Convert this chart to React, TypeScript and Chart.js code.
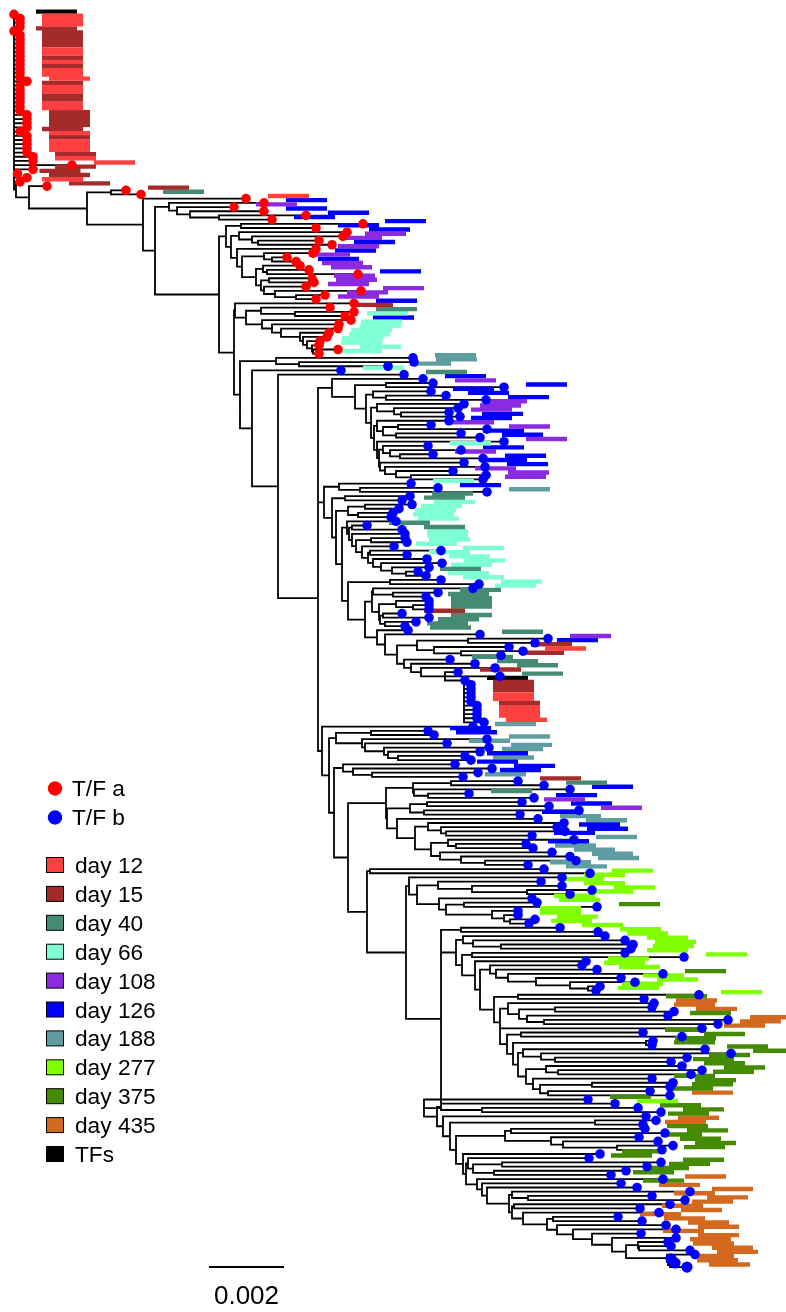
import React, { useEffect, useRef } from "react";
import { Chart, registerables } from "chart.js";

Chart.register(...registerables);

// Legend
const dayLabels = ["day 12", "day 15", "day 40", "day 66", "day 108", "day 126", "day 188", "day 277", "day 375", "day 435", "TFs"];
const dayColors = ["#FF4040", "#A52A2A", "#458B74", "#7FFFD4", "#8A2BE2", "#0000FF", "#5F9EA0", "#7FFF00", "#458B00", "#D2691E", "#000000"];
const founderLabels = ["T/F a", "T/F b"];
const founderColors = ["#FF0000", "#0000FF"];
const firstRowOfFounderB = 82;
const enlargedTipRows = [297, 298, 299];

// Tip position along the branch-length axis, one per row, top to bottom
const tipX = [
  14,20,20,20,14,20,20,20,20,20, 20,20,20,20,20,20,27,20,20,20,
  20,20,20,20,27,27,27,27,20,27, 27,27,27,27,33,33,72,33,17.5,27,
  20,47,126,141,246,264,234,264,306,272, 363,316,347,343,319,332,316,313,287,296,
  300,309,358,312,314,306,361,325,316,354, 330,354,345,351,339,338,329,327,320,319,
  338,319,413,414,388,341,404,423,433,504, 431,446,486,464,458,449,460,449,431,487,
  461,480,504,428,461,433,483,464,485,453, 486,483,411,438,487,410,402,412,399,393,
  391,396,367,402,405,405,407,394,441,407, 427,442,429,418,426,441,479,473,438,426,
  429,429,429,402,429,416,405,408,480,548, 535,509,523,501,450,475,495,458,500,465,
  471,471,471,471,471,477,477,477,477,484, 473,428,434,487,447,489,480,465,471,455,
  492,478,463,518,544,570,469,534,522,549, 579,520,538,564,557,565,532,574,526,533,
  552,570,576,528,544,590,562,541,562,592, 570,532,537,597,518,518,535,529,560,598,
  605,625,633,631,625,684,586,582,597,663, 621,635,600,596,699,644,654,652,674,668,
  728,718,702,643,682,653,652,705,731,687, 671,682,702,691,652,673,670,650,670,588,
  615,638,661,646,656,643,645,665,639,658, 673,662,600,589,661,647,626,611,663,621,
  637,690,652,685,670,640,659,618,642,666, 676,641,676,668,671,690,695,671,675,687,
];

// Index into dayLabels, one per row
const tipDay = [
  10,0,0,0,1,1,1,1,1,0, 0,1,0,1,0,0,0,1,0,0,
  1,1,0,0,1,1,1,1,1,0, 1,0,0,0,1,0,0,1,1,1,
  0,1,1,2,0,5,4,5,5,5, 5,5,5,4,4,5,4,5,4,5,
  4,4,5,4,4,4,4,4,4,5, 1,2,3,5,3,3,3,3,3,3,
  3,3,6,6,6,3,2,5,4,5, 5,5,5,4,4,4,5,5,4,4,
  5,5,4,3,5,4,5,5,5,4, 4,4,3,5,6,2,2,3,3,3,
  3,3,2,2,3,3,3,3,3,3, 3,3,3,2,3,3,3,3,2,2,
  2,2,2,1,2,2,2,2,2,4, 5,1,0,1,2,2,2,1,2,10,
  1,1,1,0,0,1,0,0,0,0, 6,5,5,6,6,6,6,5,6,5,
  5,5,6,1,2,5,2,5,4,5, 4,5,6,6,5,5,5,6,5,6,
  6,6,6,6,6,7,7,7,7,7, 7,7,7,8,7,7,7,7,7,7,
  7,7,7,7,7,7,7,7,7,8, 7,7,7,7,7,8,9,9,9,8,
  9,9,9,8,8,8,8,8,8,8, 8,8,8,8,8,8,8,8,9,8,
  7,8,8,8,9,9,8,8,8,8, 8,8,8,8,8,8,8,8,9,8,
  9,9,9,9,9,9,9,9,9,9, 9,9,9,9,9,9,9,9,9,9,
];

// Tree topology: "(x" opens an internal node at branch position x, "." is the next tip row,
// "(^x" is a node whose stem sits on its first child.
const cladeLadderA = `(219 (226 (241 . .) (231 (239 . (252 . (258 . .))) (237 . (242 (264 . (272 . .)) (256 (263 . (267 . .)) (261 (269 . .) (264 . (275 . (296 . .))))))))) (234 (235 . (246 (261 . (295 . .)) (262 . (272 . (281 . (300 . (303 . (307 . (312 . (313 . .))))))))))`;
const cladeUpperB = `(318 (332 . (355 (386 . .) (366 (373 . (386 . .)) (371 (377 . (394 . (401 . .))) (374 (377 . (383 (398 . .) (396 . .))) (377 . (379 (383 . (390 . (400 . .))) (380 . (385 . (396 . (411 . .)))))))))))`;
const cladeMiddleB = `(324 (339 . (360 . .)) (332 (345 . .) (336 (348 (365 . .) (358 . .)) (342 (347 . (349 (352 . .) (352 . (356 (371 . .) (362 . (368 (370 . .) (373 . (381 . (392 . (406 . .)))))))))) (348 (390 . .) (365 (372 (373 . (393 . .)) (379 (396 . (413 . .)) (380 (383 . .) (385 . .)))) (377 . (385 . (397 (417 (468 . .) (434 . (461 . .))) (404 . (411 . (421 . (445 . . (^464 . . . . . . . . . . .))))))))))))))`;
const cladeLate1 = `(441 (461 . .) (456 (463 . (473 . (501 . .))) (462 (472 . .) (475 . (480 (490 . (496 . (508 . (536 . (570 . (588 . .)))))) (494 (518 . .) (500 (508 . (519 (555 . .) (527 . (544 . .)))) (500 . (507 (521 . .) (513 (646 . .) (518 (523 . (541 . (555 . .))) (526 (546 . (558 . .)) (533 . (540 (592 . .) (548 . .))))))))))))))`;
const cladeLate2 = `(424 . (437 (441 . (482 . .)) (443 . (450 (595 . .) (456 (505 (511 . .) (551 . (563 . (617 . .)))) (463 . (466 (468 . (473 (502 . .) (494 . .))) (477 . (482 . (487 . (509 (512 . (528 . .)) (512 (514 . .) (523 . (547 (553 . .) (557 . (573 . (592 . (612 . (626 (638 . (639 . .)) (667 . (668 . (670 . .)))))))))))))))))))))`;
const cladeLower = `(322 . (329 (336 (371 . .) (362 . (365 . (384 . (388 . (398 . .)))))) (334 (343 . (353 . (372 . .))) (348 (386 (413 (451 . .) (414 . (428 . .))) (387 (410 (427 . .) (424 . .)) (397 . (415 (428 . (441 . (446 . .))) (431 (448 . (456 . .)) (440 . (461 . (485 . .)))))))) (367 (370 . .) (406 (409 . (417 (438 . (472 . (527 . .))) (439 . (446 (464 . .) (492 . (504 . (510 . .))))))) (418 ${cladeLate1} ${cladeLate2})))))))`;
const cladeB = `(240 (276 . (299 . .)) (252 . (278 . (316 (318 ${cladeUpperB} ${cladeMiddleB}) ${cladeLower}))))`;
const treeText = `(14 . . . . . . . . . . . . . . . . . . . . . . . . . . . . . . . . . . . . . . . . (16 . (29 . (87 (111 . .) (143 . (155 (169 . (177 . (190 . (219 . .)))) ${cladeLadderA} ${cladeB}))))))))`;

// Scale bar
const scaleBarX = [209, 284];
const scaleBarRow = 299;
const scaleBarLabel = "0.002";

type P = { x: number | null; y: number | null };
const GAP: P = { x: null, y: null };
const barLength = 41;
const barGap = 22;

function buildTree(): P[] {
  const tokens = treeText.match(/\(\^?[\d.]+|\)|\./g) || [];
  const segs: P[] = [];
  let pos = 0;
  let row = 0;
  const seg = (x0: number, y0: number, x1: number, y1: number) => {
    segs.push({ x: x0, y: y0 }, { x: x1, y: y1 }, GAP);
  };
  const read = (): { x: number; y: number } => {
    const t = tokens[pos++];
    if (t === ".") {
      const r = row++;
      return { x: tipX[r], y: r };
    }
    const anchored = t[1] === "^";
    const x = parseFloat(t.slice(anchored ? 2 : 1));
    const kids: { x: number; y: number }[] = [];
    while (tokens[pos] !== ")" && pos < tokens.length) kids.push(read());
    pos++;
    const first = kids[0];
    const last = kids[kids.length - 1];
    kids.forEach((k) => seg(x, k.y, k.x, k.y));
    seg(x, first.y, x, last.y);
    return { x, y: anchored ? first.y : (first.y + last.y) / 2 };
  };
  read();
  return segs;
}

function buildBars(day: number): P[] {
  const out: P[] = [];
  tipX.forEach((x, r) => {
    if (tipDay[r] !== day) return;
    const y = r - 0.64;
    out.push({ x: x + barGap, y }, { x: x + barGap + barLength, y }, GAP);
  });
  return out;
}

const legendPlugin = {
  id: "treeLegend",
  afterDatasetsDraw(chart: any) {
    const c = chart.ctx;
    c.save();
    c.textBaseline = "alphabetic";
    c.textAlign = "left";
    c.font = '22.7px "Liberation Sans", Arial, sans-serif';
    founderLabels.forEach((t, i) => {
      const y = 788.5 + i * 29;
      c.fillStyle = founderColors[i];
      c.beginPath();
      c.arc(55, y, 7.2, 0, Math.PI * 2);
      c.fill();
      c.fillStyle = "#000";
      c.fillText(t, 72, y + 7);
    });
    dayLabels.forEach((t, i) => {
      const y = 865 + i * 28.9;
      c.fillStyle = dayColors[i];
      c.strokeStyle = "#000";
      c.lineWidth = 1;
      c.fillRect(46.5, y - 7.5, 17, 15);
      c.strokeRect(46.5, y - 7.5, 17, 15);
      c.fillStyle = "#000";
      c.fillText(t, 75, y + 8);
    });
    c.textAlign = "center";
    c.font = '26px "Liberation Sans", Arial, sans-serif';
    const mid = chart.scales.x.getPixelForValue((scaleBarX[0] + scaleBarX[1]) / 2);
    c.fillText(scaleBarLabel, mid, 1304);
    c.restore();
  },
};

export default function App() {
  const ref = useRef<HTMLCanvasElement>(null);
  useEffect(() => {
    const lineBase = { showLine: true, pointRadius: 0, spanGaps: false, fill: false, tension: 0 };
    const rows = tipX.map((x, r) => ({ x, y: r }));
    const chart = new Chart(ref.current as HTMLCanvasElement, {
      type: "scatter",
      data: {
        datasets: [
          {
            ...lineBase,
            label: "tree",
            data: buildTree(),
            borderColor: "#000",
            borderWidth: 1.8,
            borderCapStyle: "square",
            order: 20,
          },
          ...dayLabels.map((label, d) => ({
            ...lineBase,
            label,
            data: buildBars(d),
            borderColor: dayColors[d],
            borderWidth: 4.4,
            borderCapStyle: "butt",
            order: 10,
          })),
          {
            label: founderLabels[0],
            data: rows.slice(0, firstRowOfFounderB),
            showLine: false,
            pointRadius: 4.8,
            pointBorderWidth: 0,
            pointBackgroundColor: founderColors[0],
            order: 2,
          },
          {
            label: founderLabels[1],
            data: rows.slice(firstRowOfFounderB),
            showLine: false,
            pointRadius: (ctx: any) => (enlargedTipRows.includes(ctx.raw?.y) ? 5.6 : 4.8),
            pointBorderWidth: 0,
            pointBackgroundColor: founderColors[1],
            order: 1,
          },
          {
            ...lineBase,
            label: "scale",
            data: scaleBarX.map((x) => ({ x, y: scaleBarRow })),
            borderColor: "#000",
            borderWidth: 2,
            order: 3,
          },
        ] as any,
      },
      options: {
        animation: false,
        responsive: false,
        layout: { padding: 0, autoPadding: false },
        plugins: { legend: { display: false }, tooltip: { enabled: false } },
        scales: {
          x: { type: "linear", display: false, min: 0, max: 786 },
          y: { type: "linear", display: false, reverse: true, min: -3.413, max: 309.71 },
        },
      },
      plugins: [legendPlugin],
    } as any);
    return () => chart.destroy();
  }, []);
  return (
    <canvas
      ref={ref}
      width={786}
      height={1312}
      style={{ position: "absolute", left: 0, top: 0, width: 786, height: 1312, display: "block" }}
    />
  );
}
